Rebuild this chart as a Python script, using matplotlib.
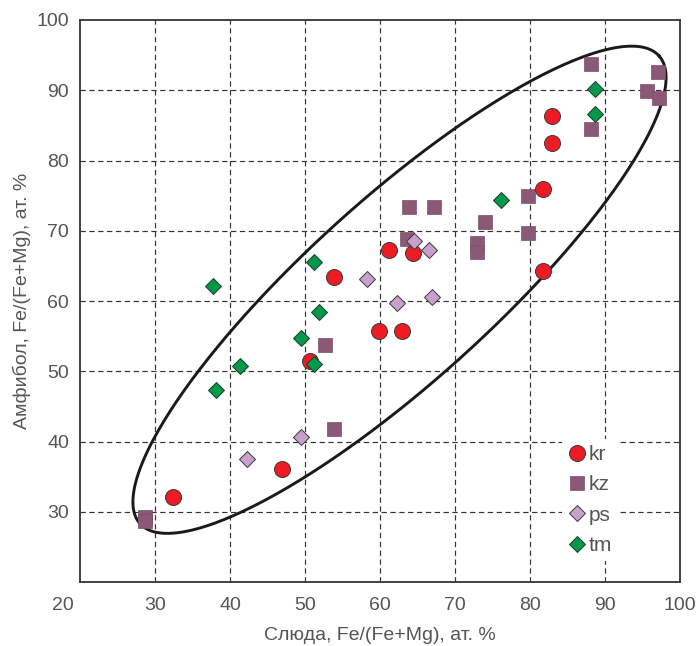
import numpy as np
import matplotlib
matplotlib.use("Agg")
import matplotlib.pyplot as plt
import matplotlib.transforms as mtransforms

plt.rcParams['font.family'] = ['Liberation Sans', 'DejaVu Sans']

# ---- data ----
kr_x = [32.4, 46.9, 50.7, 53.9, 61.2, 64.4, 59.9, 62.9, 81.7, 81.7, 83.0, 83.0]
kr_y = [32.1, 36.1, 51.4, 63.4, 67.3, 66.8, 55.7, 55.7, 76.0, 64.3, 82.5, 86.4]

kz_x = [28.7, 28.7, 52.6, 53.9, 63.6, 63.9, 67.2, 73.0, 73.0, 74.0, 79.7, 79.8,
        88.2, 88.2, 95.6, 97.1, 97.2]
kz_y = [29.3, 28.7, 53.7, 41.8, 68.8, 73.4, 73.4, 68.3, 67.0, 71.3, 69.7, 74.9,
        84.5, 93.8, 89.9, 92.6, 88.9]

ps_x = [42.2, 49.4, 58.2, 62.3, 64.5, 66.5, 66.9]
ps_y = [37.5, 40.6, 63.1, 59.7, 68.5, 67.2, 60.5]

tm_x = [37.7, 38.1, 41.3, 49.5, 51.2, 51.8, 51.2, 76.1, 88.7, 88.7]
tm_y = [62.2, 47.4, 50.7, 54.7, 65.5, 58.4, 51.1, 74.4, 90.2, 86.6]

series_names = ['kr', 'kz', 'ps', 'tm']
x_ticks = [20, 30, 40, 50, 60, 70, 80, 90, 100]
y_ticks = [30, 40, 50, 60, 70, 80, 90, 100]

# ellipse: center and conjugate semi-diameters (data units)
ell_center = (62.6, 61.6)
ell_u = (34.6, 33.3)
ell_v = (8.15, -9.68)

x_label = 'Слюда, Fe/(Fe+Mg), ат. %'
y_label = 'Амфибол, Fe/(Fe+Mg), ат. %'

# ---- plot ----
fig = plt.figure(figsize=(6.96, 6.46), dpi=100)
ax = fig.add_axes([80/696, 1-582/646, (680-80)/696, (582-20)/646])

ax.set_xlim(20.15, 100)
ax.set_ylim(20, 100)

grid_kw = dict(color='#333333', lw=0.85, ls=(0, (4.5, 3)), zorder=0)
for xv in x_ticks[1:-1]:
    ax.axvline(xv, **grid_kw)
for yv in y_ticks[:-1]:
    ax.axhline(yv, **grid_kw)

t = np.linspace(0, 2*np.pi, 400)
ex = ell_center[0] + ell_u[0]*np.cos(t) + ell_v[0]*np.sin(t)
ey = ell_center[1] + ell_u[1]*np.cos(t) + ell_v[1]*np.sin(t)
ax.plot(ex, ey, color='#1a1a1a', lw=2.1, zorder=2)

edge = '#3a3a3a'
h_kz, = ax.plot(kz_x, kz_y, ls='none', marker='s', ms=9.5, mfc='#8b5975',
                mec='#7a4e68', mew=0.5, zorder=3, label='kz')
h_kr, = ax.plot(kr_x, kr_y, ls='none', marker='o', ms=11.5, mfc='#ed1c24',
                mec=edge, mew=0.7, zorder=4, label='kr')
h_ps, = ax.plot(ps_x, ps_y, ls='none', marker='D', ms=8.5, mfc='#c9a0cc',
                mec=edge, mew=0.7, zorder=5, label='ps')
h_tm, = ax.plot(tm_x, tm_y, ls='none', marker='D', ms=8.5, mfc='#00994c',
                mec='#1e3a2a', mew=0.7, zorder=6, label='tm')

ax.set_xticks(x_ticks)
ax.set_yticks(y_ticks)
ax.tick_params(length=0, labelsize=14, labelcolor='#555555')
ax.tick_params(axis='x', pad=11)
ax.tick_params(axis='y', pad=8)

# shift first x label left like reference
off = mtransforms.ScaledTranslation(-17/100, 0, fig.dpi_scale_trans)
fig.canvas.draw()
lbl0 = ax.get_xticklabels()[0]
lbl0.set_transform(lbl0.get_transform() + off)

for s in ax.spines.values():
    s.set_color('#333333')
    s.set_linewidth(1.3)

ax.set_xlabel(x_label, fontsize=14, color='#555555', labelpad=9)
ax.set_ylabel(y_label, fontsize=14, color='#555555', labelpad=4)

leg = ax.legend(handles=[h_kr, h_kz, h_ps, h_tm], labels=series_names,
                loc='lower right', bbox_to_anchor=(0.915, 0.018),
                frameon=True, fancybox=False, edgecolor='none',
                facecolor='white', framealpha=1, fontsize=15,
                handlelength=0.9, handletextpad=0.1, labelspacing=0.55,
                borderpad=0.3)
for txt in leg.get_texts():
    txt.set_color('#555555')
leg.set_zorder(10)

fig.savefig('out.png', dpi=100)
